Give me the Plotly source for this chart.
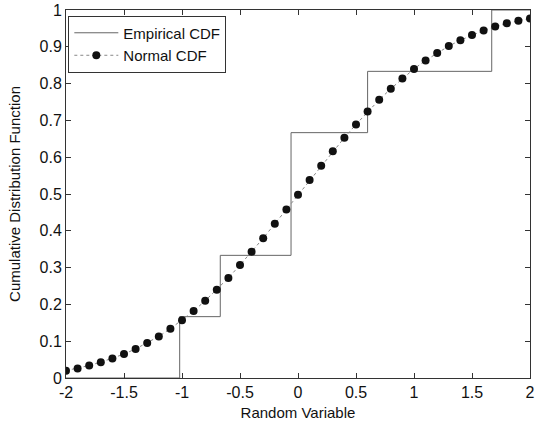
import plotly.graph_objects as go

# Empirical CDF step data
emp_x = [-2.0, -1.02, -1.02, -0.67, -0.67, -0.06, -0.06, 0.60, 0.60, 1.67, 1.67, 2.0]
emp_y = [0.0, 0.0, 0.1667, 0.1667, 0.3333, 0.3333, 0.6667, 0.6667, 0.8333, 0.8333, 1.0, 1.0]

# Normal CDF markers
norm_x = [-2.0, -1.9, -1.8, -1.7, -1.6, -1.5, -1.4, -1.3, -1.2, -1.1, -1.0,
          -0.9, -0.8, -0.7, -0.6, -0.5, -0.4, -0.3, -0.2, -0.1, 0.0,
          0.1, 0.2, 0.3, 0.4, 0.5, 0.6, 0.7, 0.8, 0.9, 1.0,
          1.1, 1.2, 1.3, 1.4, 1.5, 1.6, 1.7, 1.8, 1.9, 2.0]
norm_y = [0.020, 0.026, 0.034, 0.043, 0.053, 0.065, 0.079, 0.095, 0.113, 0.134, 0.157,
          0.182, 0.210, 0.240, 0.272, 0.307, 0.343, 0.380, 0.419, 0.458, 0.498,
          0.538, 0.577, 0.616, 0.653, 0.689, 0.724, 0.756, 0.786, 0.814, 0.840,
          0.863, 0.883, 0.902, 0.918, 0.932, 0.944, 0.955, 0.964, 0.971, 0.977]

x_ticks = [-2, -1.5, -1, -0.5, 0, 0.5, 1, 1.5, 2]
x_tick_labels = ["-2", "-1.5", "-1", "-0.5", "0", "0.5", "1", "1.5", "2"]
y_ticks = [0, 0.1, 0.2, 0.3, 0.4, 0.5, 0.6, 0.7, 0.8, 0.9, 1]
y_tick_labels = ["0", "0.1", "0.2", "0.3", "0.4", "0.5", "0.6", "0.7", "0.8", "0.9", "1"]

fig = go.Figure()
fig.add_trace(go.Scatter(
    x=emp_x, y=emp_y, mode="lines", name="Empirical CDF",
    line=dict(color="#666666", width=1),
))
fig.add_trace(go.Scatter(
    x=norm_x, y=norm_y, mode="lines+markers", name="Normal CDF",
    line=dict(color="#888888", width=1, dash="dot"),
    marker=dict(color="#111111", size=8, symbol="circle"),
))

font = "Liberation Sans, Arial, sans-serif"
fig.update_layout(
    width=540, height=421,
    margin=dict(l=66, r=10, t=10, b=43, autoexpand=False),
    paper_bgcolor="white", plot_bgcolor="white",
    font=dict(family=font, size=16, color="#111111"),
    showlegend=True,
    legend=dict(
        x=0.005, y=0.985, xanchor="left", yanchor="top",
        bgcolor="white", bordercolor="#333333", borderwidth=1,
        font=dict(size=15), tracegroupgap=0, itemwidth=44,
    ),
    xaxis=dict(
        range=[-2, 2], tickmode="array", tickvals=x_ticks, ticktext=x_tick_labels,
        ticks="inside", ticklen=5, tickcolor="#333333", tickfont=dict(size=16),
        showline=True, linecolor="#333333", linewidth=1, mirror="ticks",
        showgrid=False, zeroline=False, automargin=False,
        title=dict(text="Random Variable", font=dict(size=15)),
    ),
    yaxis=dict(
        range=[0, 1], tickmode="array", tickvals=y_ticks, ticktext=y_tick_labels,
        ticks="inside", ticklen=5, tickcolor="#333333", tickfont=dict(size=16),
        showline=True, linecolor="#333333", linewidth=1, mirror="ticks",
        showgrid=False, zeroline=False, automargin=False,
        title=dict(text="Cumulative Distribution Function", font=dict(size=15)),
    ),
)

fig.write_html("out.html", config={"displayModeBar": False},
               post_script="document.body.style.margin='0';")
